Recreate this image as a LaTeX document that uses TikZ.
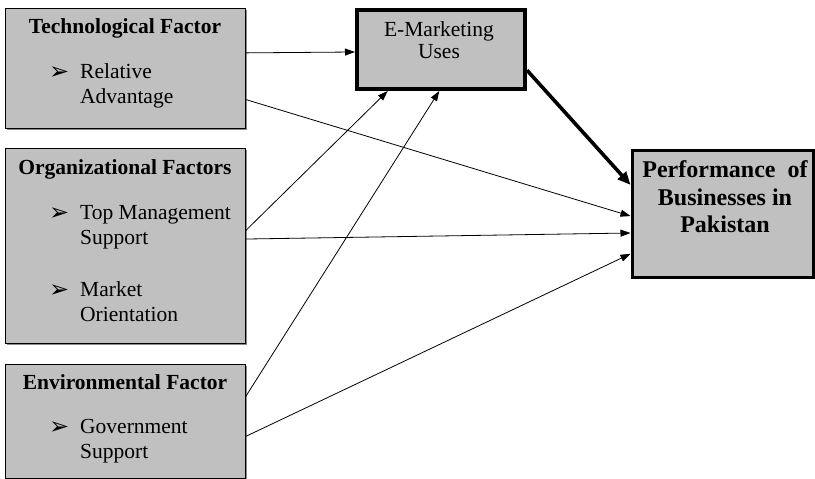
\documentclass[tikz,border=0pt]{standalone}
\usepackage{fontspec}
\setmainfont{Liberation Serif}
\newfontfamily\dejavu{DejaVu Sans}
\usetikzlibrary{arrows.meta,shadows,calc}
\definecolor{boxgray}{HTML}{C0C0C0}
\begin{document}
\begin{tikzpicture}[x=1pt,y=-1pt,
  box/.style={draw=black, line width=1pt, fill=boxgray, anchor=north west, inner sep=0pt,
    drop shadow={shadow xshift=2pt, shadow yshift=-2pt, fill=black, opacity=0.45}},
  txt/.style={inner sep=0pt, font=\fontsize{21.5}{25}\selectfont},
  ttl/.style={inner sep=0pt, anchor=base, font=\fontsize{21.5}{25}\selectfont\bfseries},
  item/.style={txt, anchor=base west},
  bul/.style={inner sep=0pt, anchor=base west, font=\dejavu\fontsize{24}{24}\selectfont},
  ptxt/.style={inner sep=0pt, anchor=base, font=\fontsize{24}{28}\selectfont\bfseries},
  arr/.style={-{Triangle[length=10pt,width=7pt]}, line width=0.8pt},
  bigarr/.style={-{Triangle[length=13pt,width=11pt]}, line width=3.6pt}]
\useasboundingbox (0,0) rectangle (815,479);

% boxes
\node[box, minimum width=240pt, minimum height=120pt] (tech) at (4.5,7.5) {};
\node[box, minimum width=240pt, minimum height=195pt] (org) at (4.5,147.5) {};
\node[box, minimum width=240pt, minimum height=114pt] (env) at (4.5,363.5) {};
\node[box, line width=4pt, minimum width=168pt, minimum height=79pt] (emk) at (355,8) {};
\node[box, line width=3pt, minimum width=181pt, minimum height=127pt] (perf) at (630.5,148.5) {};

% texts: technological
\node[ttl] (techT) at (125,33) {Technological Factor};
\node[bul] (b1) at (49,79) {➢};
\node[item] (t1) at (80,78) {Relative};
\node[item] (t2) at (80,103) {Advantage};

% organizational
\node[ttl] (orgT) at (125,174) {Organizational Factors};
\node[bul] (b2) at (49,220) {➢};
\node[item] (o1) at (80,219) {Top Management};
\node[item] (o2) at (80,244) {Support};
\node[bul] (b3) at (49,297) {➢};
\node[item] (o3) at (80,296) {Market};
\node[item] (o4) at (80,321) {Orientation};

% environmental
\node[ttl] (envT) at (125,389) {Environmental Factor};
\node[bul] (b4) at (49,434) {➢};
\node[item] (e1) at (80,433) {Government};
\node[item] (e2) at (80,458) {Support};

% e-marketing
\node[txt, anchor=base] (m1) at (439,36) {E-Marketing};
\node[txt, anchor=base] (m2) at (439,58) {Uses};

% performance
\node[ptxt] (p1) at (725,177) {Performance\ \ of};
\node[ptxt] (p2) at (725,205) {Businesses in};
\node[ptxt] (p3) at (725,232) {Pakistan};

% connectors
\draw[arr] ($(tech.north east)!0.375!(tech.south east)$) -- ($(emk.north west)!0.53!(emk.south west)$);
\draw[arr] ($(tech.north east)!0.76!(tech.south east)$) -- ($(perf.north west)!0.52!(perf.south west)$);
\draw[arr] ($(org.north east)!0.425!(org.south east)$) -- ($(emk.south west)!0.19!(emk.south east)$);
\draw[arr] ($(org.north east)!0.467!(org.south east)$) -- ($(perf.north west)!0.65!(perf.south west)$);
\draw[arr] ($(env.north east)!0.29!(env.south east)$) -- ($(emk.south west)!0.49!(emk.south east)$);
\draw[arr] ($(env.north east)!0.635!(env.south east)$) -- ($(perf.north west)!0.81!(perf.south west)$);
\draw[bigarr] ($(emk.north east)!0.75!(emk.south east)$) -- ($(perf.north west)!0.28!(perf.south west)$);
\end{tikzpicture}
\end{document}
